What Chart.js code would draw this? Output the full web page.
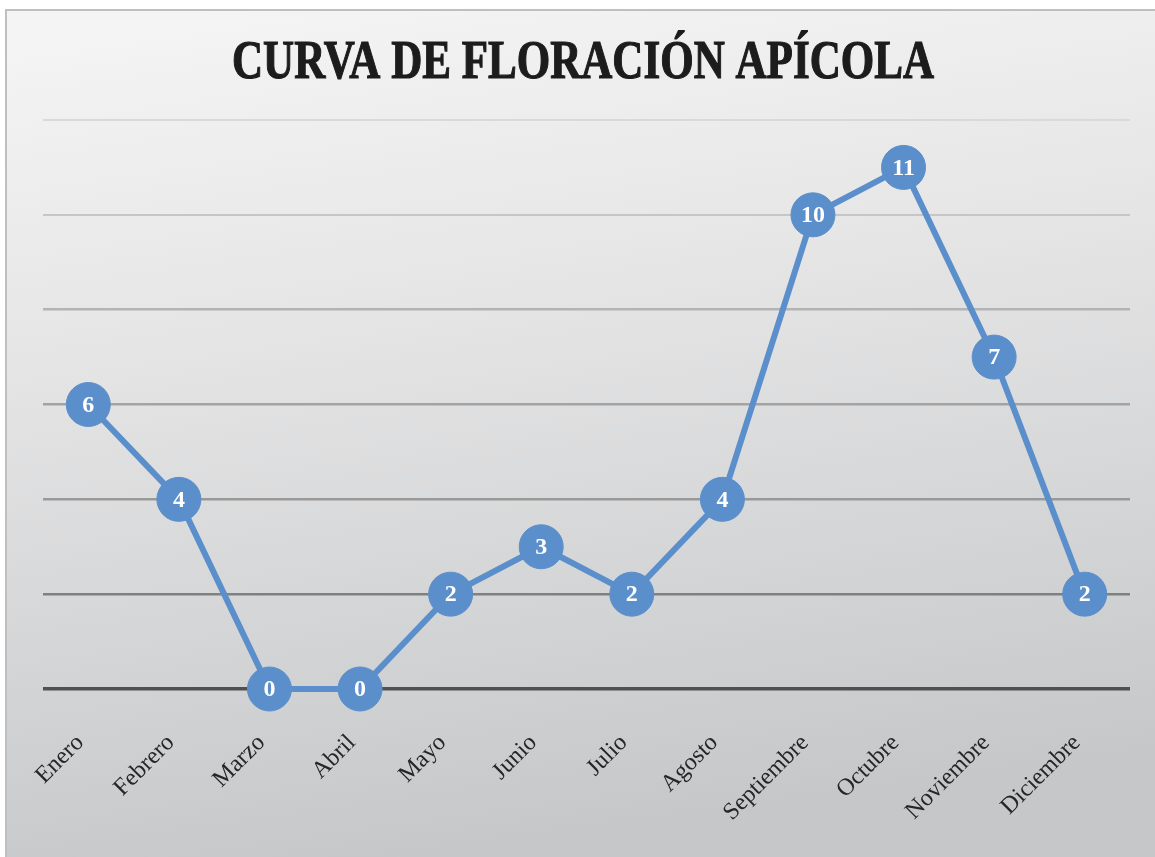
<!DOCTYPE html>
<html><head><meta charset="utf-8">
<style>html,body{margin:0;padding:0;background:#fff}#wrap{width:1155px;height:857px;position:relative}</style>
<script src="https://cdn.jsdelivr.net/npm/chart.js@4.4.1/dist/chart.umd.min.js"></script>
</head><body><div id="wrap"><canvas id="c" width="1155" height="857"></canvas></div>
<script>
const title = 'CURVA DE FLORACIÓN APÍCOLA';
const months = ['Enero','Febrero','Marzo','Abril','Mayo','Junio','Julio','Agosto','Septiembre','Octubre','Noviembre','Diciembre'];
const values = [6,4,0,0,2,3,2,4,10,11,7,2];
const yTicks = [0,2,4,6,8,10,12];
const gridColors = ['#505050','#808080','#999999','#a3a3a3','#b3b3b3','#c6c6c6','#d9d9d9'];

const BLUE = '#5b8fcb';

const bgPlugin = {
  id:'bg',
  beforeDraw(chart){
    const ctx = chart.ctx;
    ctx.save();
    ctx.fillStyle = '#ffffff';
    ctx.fillRect(0,0,1155,857);
    const g = ctx.createLinearGradient(300,0,420,857);
    g.addColorStop(0,'#f4f4f5');
    g.addColorStop(0.35,'#e6e6e7');
    g.addColorStop(0.8,'#d0d1d2');
    g.addColorStop(1,'#c6c7c9');
    ctx.fillStyle = g;
    ctx.fillRect(6,10,1149,847);
    ctx.strokeStyle = '#bfbfbf';
    ctx.lineWidth = 2;
    ctx.strokeRect(6,10,1160,860);
    ctx.restore();
  },
  afterDraw(chart){
    const ctx = chart.ctx;
    ctx.save();
    ctx.font = 'bold 55px "Liberation Serif"';
    const w = ctx.measureText(title).width;
    const sx = 702 / w;
    ctx.translate(583, 78);
    ctx.scale(sx, 1);
    ctx.fillStyle = '#1c1c1c';
    ctx.strokeStyle = '#1c1c1c';
    ctx.lineWidth = 1.2;
    ctx.textAlign = 'center';
    ctx.textBaseline = 'alphabetic';
    ctx.fillText(title, 0, 0);
    ctx.strokeText(title, 0, 0);
    ctx.restore();
  }
};

const labelPlugin = {
  id:'vals',
  afterDatasetsDraw(chart){
    const ctx = chart.ctx;
    const meta = chart.getDatasetMeta(0);
    ctx.save();
    ctx.font = 'bold 24px "Liberation Serif"';
    ctx.fillStyle = '#ffffff';
    ctx.textAlign = 'center';
    ctx.textBaseline = 'middle';
    meta.data.forEach((pt,i)=>{
      ctx.fillText(String(values[i]), pt.x, pt.y+1);
    });
    ctx.restore();
  }
};

new Chart(document.getElementById('c'), {
  type:'line',
  data:{labels:months, datasets:[{
    data:values,
    borderColor:BLUE, borderWidth:6,
    pointRadius:22, pointHoverRadius:22,
    pointBackgroundColor:BLUE, pointBorderColor:BLUE, pointBorderWidth:1,
    tension:0, clip:false
  }]},
  options:{
    responsive:false, animation:false, devicePixelRatio:1,
    layout:{padding:{left:43,right:25,top:120,bottom:0}},
    plugins:{legend:{display:false}, title:{display:false}, tooltip:{enabled:false}},
    scales:{
      x:{
        offset:true,
        grid:{display:false, drawTicks:false},
        border:{display:false},
        ticks:{minRotation:45,maxRotation:45,padding:40,labelOffset:-8,color:'#262626',font:{family:'"Liberation Serif"',size:24}},
        afterFit(s){ s.height = 857-689; s.paddingLeft=0; s.paddingRight=0; }
      },
      y:{
        min:0,max:12,
        afterBuildTicks(s){ s.ticks = yTicks.map(v=>({value:v})); },
        ticks:{display:false},
        grid:{drawTicks:false, color:(c)=>gridColors[yTicks.indexOf(c.tick.value)]||'#bbb', lineWidth:(c)=>c.tick.value===0?3.5:(c.tick.value>=10?2:2.5)},
        border:{display:false},
        afterFit(s){ s.width = 0; }
      }
    }
  },
  plugins:[bgPlugin,labelPlugin]
});
</script></body></html>
